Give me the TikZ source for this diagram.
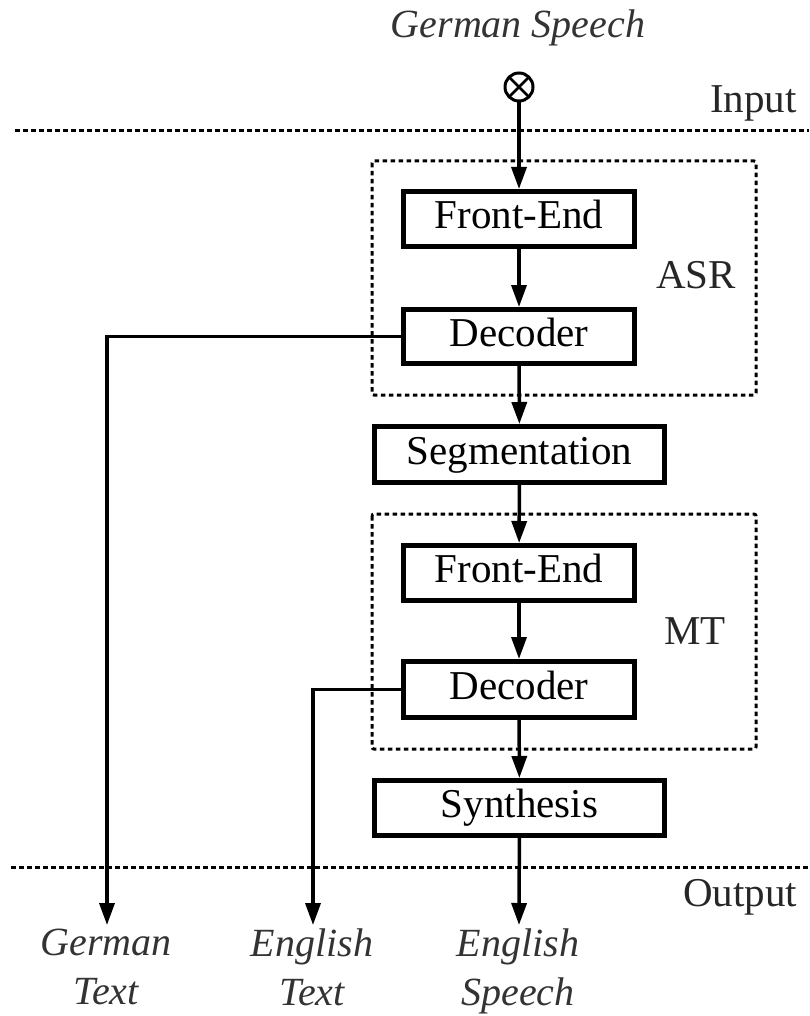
\documentclass[tikz,border=0pt]{standalone}
\usepackage{fontspec}
\setmainfont{Liberation Serif}
\usetikzlibrary{arrows.meta}
\begin{document}
\begin{tikzpicture}[x=1pt,y=-1pt,
  box/.style={draw, line width=5pt, rectangle, inner sep=0pt, text height=28pt, text depth=9pt, font=\fontsize{41}{49}\selectfont},
  grp/.style={draw, line width=3pt, dash pattern=on 4.5pt off 3.5pt, rounded corners=2pt},
  dline/.style={line width=3pt, dash pattern=on 4.5pt off 3.5pt},
  arr/.style={line width=3.5pt, -{Triangle[length=22pt,width=15pt]}},
  lbl/.style={font=\fontsize{41}{49}\selectfont, inner sep=0pt, text=black!85},
  ilbl/.style={font=\fontsize{40}{49}\selectfont\itshape, inner sep=0pt, align=center, text=black!80},
]
\useasboundingbox (0,0) rectangle (809,1016);

% separators
\draw[dline] (15,131) -- (809,131);
\draw[dline] (11,867) -- (809,867);
\node[lbl, anchor=base west] (inlbl) at (710,113) {Input};
\node[lbl, anchor=base west] (outlbl) at (683,906) {Output};

% group boxes
\draw[grp] (372,161) rectangle (756,395);
\draw[grp] (372,514) rectangle (756,749);
\node[lbl, anchor=base west] (asr) at (656,288) {ASR};
\node[lbl, anchor=base west] (mt) at (664,644) {MT};

% source
\node[ilbl, anchor=base] (gs) at (518,38) {German Speech};
\node[circle, draw, line width=3pt, minimum size=28pt, inner sep=0pt] (src) at (519,87) {};
\draw[line width=2.5pt, shorten <=1.5pt, shorten >=1.5pt] (src.north west) -- (src.south east);
\draw[line width=2.5pt, shorten <=1.5pt, shorten >=1.5pt] (src.north east) -- (src.south west);

% boxes
\node[box, minimum width=231pt, minimum height=55pt] (fe1) at (519,219) {Front-End};
\node[box, minimum width=231pt, minimum height=54pt] (dec1) at (519,336.5) {Decoder};
\node[box, minimum width=290pt, minimum height=56pt] (seg) at (519.5,454.5) {Segmentation};
\node[box, minimum width=231pt, minimum height=55pt] (fe2) at (519,573) {Front-End};
\node[box, minimum width=231pt, minimum height=56pt] (dec2) at (519,689.5) {Decoder};
\node[box, minimum width=290pt, minimum height=55pt] (syn) at (519.5,808) {Synthesis};

% outputs
\coordinate (gtend) at (107,925);
\coordinate (etend) at (313,925);
\coordinate (esend) at (519,925);
\node[ilbl, anchor=north] (gt) at (106,929) {German\\Text};
\node[ilbl, anchor=north] (et) at (312,929) {English\\Text};
\node[ilbl, anchor=north] (es) at (518,929) {English\\Speech};

% connectors
\draw[arr] (src) -- (fe1);
\draw[arr] (fe1) -- (dec1);
\draw[arr] (dec1) -- (seg);
\draw[arr] (seg) -- (fe2);
\draw[arr] (fe2) -- (dec2);
\draw[arr] (dec2) -- (syn);
\draw[arr] (syn) -- (esend);
\draw[arr] (dec1.west) -| (gtend);
\draw[arr] (dec2.west) -| (etend);
\end{tikzpicture}
\end{document}
